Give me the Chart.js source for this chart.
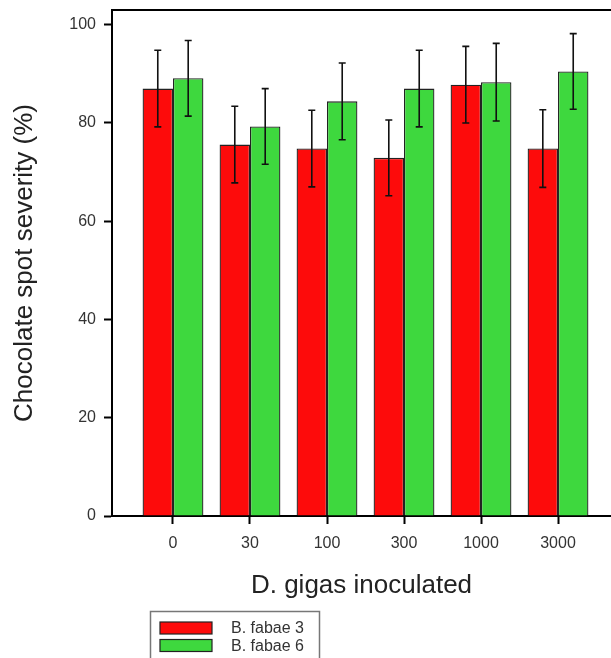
<!DOCTYPE html>
<html>
<head>
<meta charset="utf-8">
<script src="https://cdn.jsdelivr.net/npm/chart.js@4/dist/chart.umd.min.js"></script>
<style>
  html, body { margin: 0; padding: 0; background: #fff; overflow: hidden; }
  #wrap { width: 611px; height: 658px; }
</style>
</head>
<body>
<div id="wrap"><canvas id="c" width="611" height="658"></canvas></div>
<script>
const categories = ["0", "30", "100", "300", "1000", "3000"];
const seriesNames = ["B. fabae 3", "B. fabae 6"];
const fabae3 = [87.0, 75.6, 74.8, 72.9, 87.8, 74.8];
const fabae6 = [89.1, 79.3, 84.4, 87.0, 88.3, 90.5];
const fabae3Err = [7.8, 7.8, 7.8, 7.7, 7.8, 7.9];
const fabae6Err = [7.7, 7.7, 7.8, 7.8, 7.9, 7.7];
const yTicks = [0, 20, 40, 60, 80, 100];

const FONT = "'Liberation Sans', Arial, Helvetica, sans-serif";
const RED = '#fd0b0b';
const GREEN = '#3ed83e';

const errorBars = {
  id: 'errorBars',
  afterDatasetsDraw(chart) {
    const ctx = chart.ctx;
    const y = chart.scales.y;
    const errs = [fabae3Err, fabae6Err];
    const vals = [fabae3, fabae6];
    ctx.save();
    ctx.strokeStyle = '#111';
    ctx.lineWidth = 1.6;
    chart.data.datasets.forEach((ds, di) => {
      const meta = chart.getDatasetMeta(di);
      meta.data.forEach((bar, i) => {
        const x = bar.x;
        const top = y.getPixelForValue(vals[di][i] + errs[di][i]);
        const bot = y.getPixelForValue(vals[di][i] - errs[di][i]);
        ctx.beginPath();
        ctx.moveTo(x, top); ctx.lineTo(x, bot);
        ctx.moveTo(x - 3.5, top); ctx.lineTo(x + 3.5, top);
        ctx.moveTo(x - 3.5, bot); ctx.lineTo(x + 3.5, bot);
        ctx.stroke();
      });
    });
    ctx.restore();
  },
  afterDraw(chart) {
    const ctx = chart.ctx;
    const a = chart.chartArea;
    ctx.save();
    // top frame line
    ctx.strokeStyle = '#000';
    ctx.lineWidth = 2;
    ctx.beginPath();
    ctx.moveTo(a.left - 1, a.top);
    ctx.lineTo(chart.width, a.top);
    ctx.stroke();
    // legend box
    ctx.strokeStyle = '#777';
    ctx.lineWidth = 1.5;
    ctx.strokeRect(150.5, 611.5, 169, 60);
    const colors = [RED, GREEN];
    const rows = [628, 645.5];
    ctx.font = '16px ' + FONT;
    ctx.textBaseline = 'middle';
    ctx.textAlign = 'left';
    seriesNames.forEach((n, i) => {
      ctx.fillStyle = colors[i];
      ctx.fillRect(160, rows[i] - 6, 52, 12);
      ctx.strokeStyle = '#222';
      ctx.lineWidth = 1.2;
      ctx.strokeRect(160, rows[i] - 6, 52, 12);
      ctx.fillStyle = '#333';
      ctx.fillText(n, 231, rows[i] + 1);
    });
    ctx.restore();
  }
};

new Chart(document.getElementById('c'), {
  type: 'bar',
  data: {
    datasets: [
      {
        label: seriesNames[0],
        data: fabae3.map((v, i) => ({ x: i, y: v })),
        backgroundColor: RED,
        borderColor: '#222',
        borderWidth: 1.3,
        barPercentage: 1.0,
        categoryPercentage: 0.79
      },
      {
        label: seriesNames[1],
        data: fabae6.map((v, i) => ({ x: i, y: v })),
        backgroundColor: GREEN,
        borderColor: '#222',
        borderWidth: 1.3,
        barPercentage: 1.0,
        categoryPercentage: 0.79
      }
    ]
  },
  options: {
    responsive: false,
    animation: false,
    layout: { padding: { top: 10, right: 0, bottom: 0, left: 0 } },
    plugins: { legend: { display: false }, tooltip: { enabled: false } },
    scales: {
      x: {
        type: 'linear',
        offset: false,
        min: -0.792,
        max: 5.688,
        afterBuildTicks: (s) => { s.ticks = categories.map((c, i) => ({ value: i })); },
        afterFit: (s) => { s.height = 142; s.paddingLeft = 0; s.paddingRight = 0; },
        grid: { offset: false, drawOnChartArea: false, drawTicks: true, tickLength: 8, tickWidth: 2, tickColor: '#000' },
        border: { display: true, color: '#000', width: 2 },
        ticks: {
          color: '#333',
          font: { family: FONT, size: 16 },
          padding: 10,
          maxRotation: 0,
          autoSkip: false,
          callback: (v) => categories[Math.round(v)]
        },
        title: {
          display: true,
          text: 'D. gigas inoculated',
          color: '#222',
          font: { family: FONT, size: 26 },
          padding: { top: 0, bottom: 57 }
        }
      },
      y: {
        type: 'linear',
        min: 0,
        max: 103,
        afterBuildTicks: (s) => { s.ticks = yTicks.map(v => ({ value: v })); },
        afterFit: (s) => { s.width = 112; s.paddingTop = 0; s.paddingBottom = 0; },
        grid: { drawOnChartArea: false, drawTicks: true, tickLength: 8, tickWidth: 2, tickColor: '#000' },
        border: { display: true, color: '#000', width: 2 },
        ticks: {
          color: '#333',
          font: { family: FONT, size: 16 },
          padding: 8
        },
        title: {
          display: true,
          text: 'Chocolate spot severity (%)',
          color: '#222',
          font: { family: FONT, size: 26 },
          padding: { top: 9, bottom: 0 }
        }
      }
    }
  },
  plugins: [errorBars]
});
</script>
</body>
</html>
